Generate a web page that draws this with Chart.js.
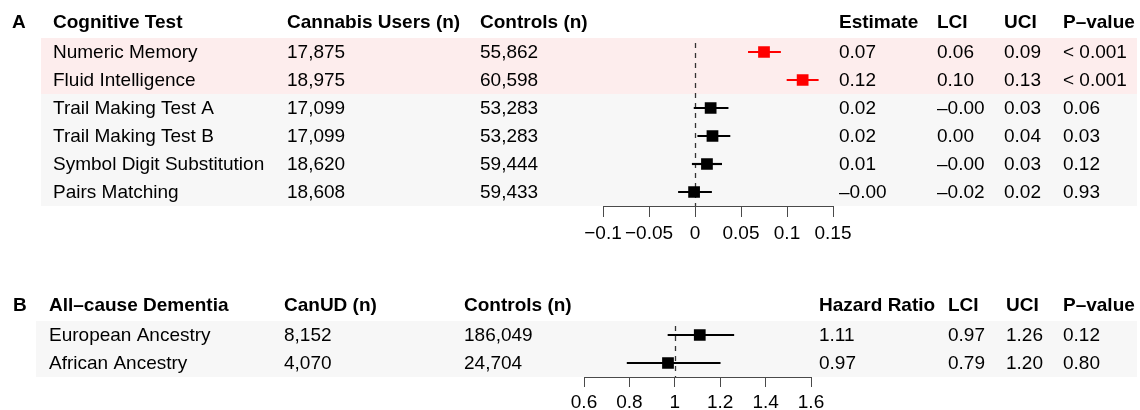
<!DOCTYPE html>
<html>
<head>
<meta charset="utf-8">
<script src="https://cdn.jsdelivr.net/npm/chart.js@4/dist/chart.umd.min.js"></script>
<style>
  body { margin: 0; background: #fff; }
  .panel { position: absolute; left: 0; width: 1140px; }
  #wrapA { top: 0; height: 250px; }
  #wrapB { top: 250px; height: 160px; }
</style>
</head>
<body>
<div class="panel" id="wrapA"><canvas id="chartA" width="1140" height="250"></canvas></div>
<div class="panel" id="wrapB"><canvas id="chartB" width="1140" height="160"></canvas></div>
<script>
// Panel A: cognitive tests
const testsA = ['Numeric Memory', 'Fluid Intelligence', 'Trail Making Test A', 'Trail Making Test B', 'Symbol Digit Substitution', 'Pairs Matching'];
const usersA = ['17,875', '18,975', '17,099', '17,099', '18,620', '18,608'];
const controlsA = ['55,862', '60,598', '53,283', '53,283', '59,444', '59,433'];
const estA = [0.075, 0.117, 0.017, 0.019, 0.013, -0.001];
const lciA = [0.058, 0.100, -0.001, 0.003, -0.003, -0.018];
const uciA = [0.093, 0.134, 0.036, 0.038, 0.029, 0.018];
const estTextA = ['0.07', '0.12', '0.02', '0.02', '0.01', '\u20130.00'];
const lciTextA = ['0.06', '0.10', '\u20130.00', '0.00', '\u20130.00', '\u20130.02'];
const uciTextA = ['0.09', '0.13', '0.03', '0.04', '0.03', '0.02'];
const pTextA = ['< 0.001', '< 0.001', '0.06', '0.03', '0.12', '0.93'];
const sigA = [true, true, false, false, false, false];
const ticksA = [-0.1, -0.05, 0, 0.05, 0.1, 0.15];
const tickLabelsA = ['\u22120.1', '\u22120.05', '0', '0.05', '0.1', '0.15'];

// Panel B: all-cause dementia
const groupsB = ['European Ancestry', 'African Ancestry'];
const canudB = ['8,152', '4,070'];
const controlsB = ['186,049', '24,704'];
const hrB = [1.11, 0.97];
const lciB = [0.97, 0.79];
const uciB = [1.26, 1.20];
const hrTextB = ['1.11', '0.97'];
const lciTextB = ['0.97', '0.79'];
const uciTextB = ['1.26', '1.20'];
const pTextB = ['0.12', '0.80'];
const ticksB = [0.6, 0.8, 1, 1.2, 1.4, 1.6];
const tickLabelsB = ['0.6', '0.8', '1', '1.2', '1.4', '1.6'];

const FONT = '"Liberation Sans", Arial, Helvetica, sans-serif';
const AXIS = '#4a4a4a';

// background bands, reference line and table text
const tablePlugin = {
    id: 'forestTable',
    beforeDraw(chart, args, opts) {
        const ctx = chart.ctx;
        const y = chart.scales.y;
        const n = opts.rows.length;
        const h = y.height / n;
        ctx.save();
        for (let i = 0; i < n; i++) {
            const yc = y.getPixelForValue(i);
            ctx.fillStyle = opts.bands[i];
            ctx.fillRect(opts.bandLeft, yc - h / 2, 1137 - opts.bandLeft, h);
        }
        ctx.restore();
    },
    beforeDatasetsDraw(chart, args, opts) {
        const ctx = chart.ctx;
        const x = chart.scales.x.getPixelForValue(opts.ref);
        const area = chart.chartArea;
        ctx.save();
        ctx.strokeStyle = '#333';
        ctx.lineWidth = 1.3;
        ctx.setLineDash([5, 5]);
        ctx.beginPath();
        ctx.moveTo(Math.round(x) + 0.5, area.top + 5);
        ctx.lineTo(Math.round(x) + 0.5, area.bottom);
        ctx.stroke();
        ctx.restore();
    },
    afterDraw(chart, args, opts) {
        const ctx = chart.ctx;
        const y = chart.scales.y;
        ctx.save();
        ctx.fillStyle = '#000';
        ctx.textBaseline = 'middle';
        ctx.textAlign = 'left';
        const headY = y.getPixelForValue(0) - 29;
        ctx.font = 'bold 19px ' + FONT;
        ctx.fillText(opts.tag, opts.tagX, headY);
        opts.columns.forEach(col => {
            ctx.font = 'bold 19px ' + FONT;
            ctx.fillText(col.title, col.x, headY);
            ctx.font = '19px ' + FONT;
            col.values.forEach((v, i) => {
                ctx.fillText(v, col.x, y.getPixelForValue(i) + 1);
            });
        });
        ctx.restore();
    }
};

function forestChart(id, cfg) {
    return new Chart(document.getElementById(id), {
        type: 'bar',
        data: {
            labels: cfg.rows,
            datasets: [{
                type: 'bar',
                data: cfg.lo.map((v, i) => [v, cfg.hi[i]]),
                backgroundColor: cfg.colors,
                barThickness: 1.5,
                borderWidth: 0
            }, {
                type: 'scatter',
                data: cfg.est.map((v, i) => ({ x: v, y: cfg.rows[i] })),
                pointStyle: 'rect',
                pointRadius: 8.3,
                pointBackgroundColor: cfg.colors,
                pointBorderWidth: 0
            }]
        },
        options: {
            indexAxis: 'y',
            responsive: false,
            animation: false,
            layout: { padding: cfg.padding },
            plugins: {
                legend: { display: false },
                tooltip: { enabled: false },
                forestTable: cfg.table
            },
            scales: {
                y: { type: 'category', display: false },
                x: {
                    type: 'linear',
                    min: cfg.ticks[0],
                    max: cfg.ticks[cfg.ticks.length - 1],
                    afterBuildTicks: s => { s.ticks = cfg.ticks.map(v => ({ value: v })); },
                    afterFit: s => { s.height = cfg.axisHeight; },
                    grid: { drawOnChartArea: false, tickLength: cfg.tickLength, tickColor: AXIS, lineWidth: 1 },
                    border: { color: AXIS, width: 1 },
                    ticks: {
                        color: '#000',
                        padding: cfg.tickPad,
                        maxRotation: 0,
                        autoSkip: false,
                        font: { family: FONT, size: 19 },
                        callback: (v, i) => cfg.tickLabels[i]
                    }
                }
            }
        },
        plugins: [tablePlugin]
    });
}

const PINK = '#fdeded';
const GREY = '#f7f7f7';

forestChart('chartA', {
    rows: testsA,
    lo: lciA, hi: uciA, est: estA,
    colors: sigA.map(s => s ? '#ff0000' : '#000000'),
    ticks: ticksA, tickLabels: tickLabelsA,
    padding: { left: 603, right: 307, top: 38, bottom: 0 },
    axisHeight: 44, tickLength: 11, tickPad: 5,
    table: {
        rows: testsA,
        bands: sigA.map(s => s ? PINK : GREY),
        bandLeft: 41,
        ref: 0,
        tag: 'A', tagX: 12,
        columns: [
            { title: 'Cognitive Test', x: 53, values: testsA },
            { title: 'Cannabis Users (n)', x: 287, values: usersA },
            { title: 'Controls (n)', x: 480, values: controlsA },
            { title: 'Estimate', x: 839, values: estTextA },
            { title: 'LCI', x: 937, values: lciTextA },
            { title: 'UCI', x: 1004, values: uciTextA },
            { title: 'P\u2013value', x: 1063, values: pTextA }
        ]
    }
});

forestChart('chartB', {
    rows: groupsB,
    lo: lciB, hi: uciB, est: hrB,
    colors: ['#000000', '#000000'],
    ticks: ticksB, tickLabels: tickLabelsB,
    padding: { left: 584, right: 1140 - 811, top: 71, bottom: 0 },
    axisHeight: 33, tickLength: 10, tickPad: 4,
    table: {
        rows: groupsB,
        bands: [GREY, GREY],
        bandLeft: 36,
        ref: 1,
        tag: 'B', tagX: 13,
        columns: [
            { title: 'All\u2013cause Dementia', x: 49, values: groupsB },
            { title: 'CanUD (n)', x: 284, values: canudB },
            { title: 'Controls (n)', x: 464, values: controlsB },
            { title: 'Hazard Ratio', x: 819, values: hrTextB },
            { title: 'LCI', x: 948, values: lciTextB },
            { title: 'UCI', x: 1006, values: uciTextB },
            { title: 'P\u2013value', x: 1063, values: pTextB }
        ]
    }
});
</script>
</body>
</html>
